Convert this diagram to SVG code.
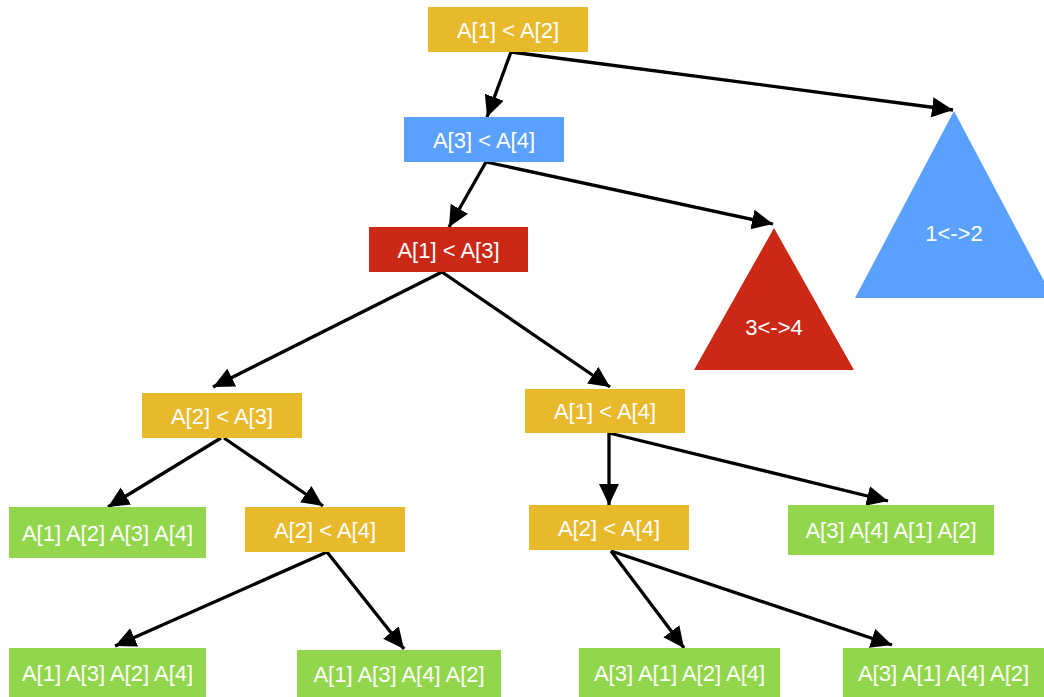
<svg xmlns="http://www.w3.org/2000/svg" width="1044" height="697" viewBox="0 0 1044 697">
<defs>
<style>
.gold{fill:#E9B92C}
.blue{fill:#5AA0FF}
.red{fill:#CB2816}
.green{fill:#92D74B}
text{font-family:"Liberation Sans",Arial,sans-serif;font-size:22px;fill:#ffffff;text-anchor:middle}
.edge{stroke:#000;stroke-width:3.3;fill:none}
</style>
<marker id="arr" markerUnits="userSpaceOnUse" markerWidth="24" markerHeight="22" refX="21" refY="10" orient="auto">
<path d="M0,0 L21,10 L0,20 z" fill="#000"/>
</marker>
</defs>
<rect width="1044" height="697" fill="#ffffff"/>
<g id="connectors">
<line class="edge" x1="511" y1="52" x2="487" y2="117" marker-end="url(#arr)"/>
<line class="edge" x1="511" y1="52" x2="953" y2="110" marker-end="url(#arr)"/>
<line class="edge" x1="486" y1="162" x2="449" y2="227" marker-end="url(#arr)"/>
<line class="edge" x1="486" y1="162" x2="773" y2="224" marker-end="url(#arr)"/>
<line class="edge" x1="442" y1="272" x2="213" y2="387" marker-end="url(#arr)"/>
<line class="edge" x1="442" y1="272" x2="610" y2="387" marker-end="url(#arr)"/>
<line class="edge" x1="221" y1="438" x2="108" y2="507" marker-end="url(#arr)"/>
<line class="edge" x1="224" y1="438" x2="323" y2="506" marker-end="url(#arr)"/>
<line class="edge" x1="327" y1="552" x2="115" y2="646" marker-end="url(#arr)"/>
<line class="edge" x1="327" y1="552" x2="404" y2="649" marker-end="url(#arr)"/>
<line class="edge" x1="609" y1="433" x2="609" y2="505" marker-end="url(#arr)"/>
<line class="edge" x1="609" y1="433" x2="888" y2="501" marker-end="url(#arr)"/>
<line class="edge" x1="611" y1="551" x2="684" y2="648" marker-end="url(#arr)"/>
<line class="edge" x1="611" y1="551" x2="892" y2="645" marker-end="url(#arr)"/>
</g>
<g id="n1"><rect class="gold" x="428" y="7" width="160" height="45"/><text x="508" y="37.5">A[1] &lt; A[2]</text></g>
<g id="n2"><rect class="blue" x="404" y="117" width="160" height="45"/><text x="484" y="147.5">A[3] &lt; A[4]</text></g>
<g id="n3"><rect class="red" x="369" y="227" width="159" height="45"/><text x="448.5" y="257.5">A[1] &lt; A[3]</text></g>
<g id="t12"><polygon class="blue" points="954,111 1053,298 855,298"/><text x="954" y="241">1&lt;-&gt;2</text></g>
<g id="t34"><polygon class="red" points="774,228 854,370 694,370"/><text x="774" y="335">3&lt;-&gt;4</text></g>
<g id="n4"><rect class="gold" x="142" y="393" width="160" height="45"/><text x="222" y="423.5">A[2] &lt; A[3]</text></g>
<g id="n5"><rect class="gold" x="525" y="389" width="160" height="44"/><text x="605" y="419">A[1] &lt; A[4]</text></g>
<g id="n6"><rect class="green" x="9" y="507" width="197" height="51"/><text x="107.5" y="540.5">A[1] A[2] A[3] A[4]</text></g>
<g id="n7"><rect class="gold" x="245" y="507" width="160" height="45"/><text x="325" y="537.5">A[2] &lt; A[4]</text></g>
<g id="n8"><rect class="gold" x="529" y="505" width="160" height="45"/><text x="609" y="535.5">A[2] &lt; A[4]</text></g>
<g id="n9"><rect class="green" x="788" y="505" width="206" height="50"/><text x="891" y="538">A[3] A[4] A[1] A[2]</text></g>
<g id="n10"><rect class="green" x="9" y="648" width="197" height="49"/><text x="107.5" y="680.5">A[1] A[3] A[2] A[4]</text></g>
<g id="n11"><rect class="green" x="297" y="650" width="204" height="47"/><text x="399" y="681.5">A[1] A[3] A[4] A[2]</text></g>
<g id="n12"><rect class="green" x="579" y="648" width="201" height="49"/><text x="679.5" y="680.5">A[3] A[1] A[2] A[4]</text></g>
<g id="n13"><rect class="green" x="843" y="648" width="201" height="49"/><text x="943.5" y="680.5">A[3] A[1] A[4] A[2]</text></g>
</svg>
